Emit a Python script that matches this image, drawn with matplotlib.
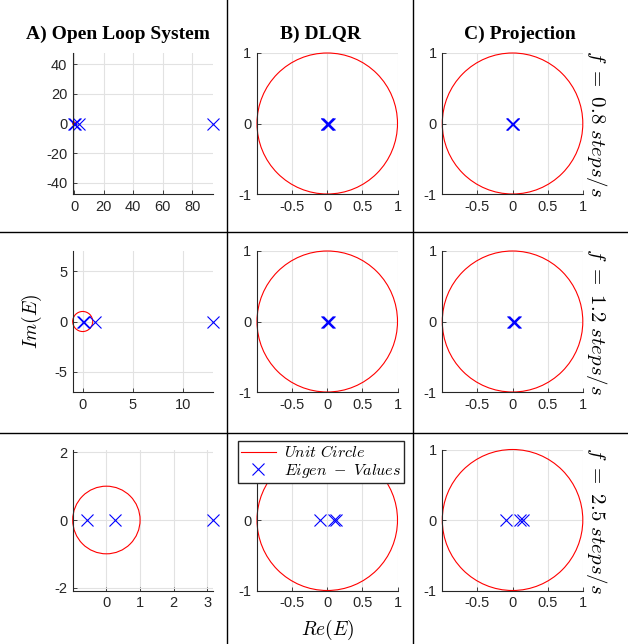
import matplotlib.pyplot as plt
from matplotlib.lines import Line2D
from matplotlib.patches import Circle
from matplotlib.ticker import FormatStrFormatter

plt.rcParams['font.family'] = ['Liberation Sans', 'DejaVu Sans']
plt.rcParams['mathtext.fontset'] = 'cm'
plt.rcParams['axes.unicode_minus'] = False

# eigenvalues (real part, imag part ~ 0) read off the figure
# rows: f = 0.8, 1.2, 2.5 steps/s
open_loop_re = [[0.1, 0.8, 3.2, 94.2], [0.0, 0.1, 1.2, 13.05], [-0.58, 0.25, 3.17]]
dlqr_re = [[-0.01, 0.0, 0.01, 0.02], [0.0, 0.01, 0.03], [-0.1, 0.1, 0.13]]
proj_re = [[-0.01, 0.0, 0.01], [0.0, 0.02, 0.03], [-0.09, 0.1, 0.15]]

col_titles = ['A) Open Loop System', 'B) DLQR', 'C) Projection']
freqs = ['0.8', '1.2', '2.5']

ol_xticks = [[0, 20, 40, 60, 80], [0, 5, 10], [0, 1, 2, 3]]
ol_yticks = [[-40, -20, 0, 20, 40], [-5, 0, 5], [-2, 0, 2]]

W, H = 628, 644
fig = plt.figure(figsize=(W / 100, H / 100), dpi=100)

col_left = [72.7, 257, 442.3]
row_top = [53, 251, 449.5]
aw, ah = 140.5, 141

dark = '#262626'


def style(ax):
    for s in ['top', 'right']:
        ax.spines[s].set_visible(False)
    for s in ['left', 'bottom']:
        ax.spines[s].set_color(dark)
        ax.spines[s].set_linewidth(0.8)
    ax.tick_params(direction='in', length=3, width=0.6, colors=dark,
                   labelsize=10.5, pad=4)
    ax.grid(True, color='#e2e2e2', linewidth=0.8)
    ax.set_axisbelow(True)
    ax.xaxis.set_major_formatter(FormatStrFormatter('%g'))
    ax.yaxis.set_major_formatter(FormatStrFormatter('%g'))


for r in range(3):
    for c in range(3):
        ax = fig.add_axes([col_left[c] / W, 1 - (row_top[r] + ah) / H, aw / W, ah / H])
        style(ax)
        circ = Circle((0, 0), 1, fill=False, edgecolor='red', linewidth=0.8, clip_on=False)
        ax.add_patch(circ)
        if c == 0:
            re = open_loop_re[r]
            xmax = max(re)
            half = (xmax + 1) / 2
            ax.set_xlim(-1, xmax)
            ax.set_ylim(-half, half)
            ax.set_xticks(ol_xticks[r])
            ax.set_yticks(ol_yticks[r])
        else:
            re = dlqr_re[r] if c == 1 else proj_re[r]
            ax.set_xlim(-1, 1)
            ax.set_ylim(-1, 1)
            ax.set_xticks([-0.5, 0, 0.5, 1])
            ax.set_yticks([-1, 0, 1])
        ax.plot(re, [0] * len(re), 'x', color='blue', markersize=9,
                markeredgewidth=0.8, clip_on=False)

# column titles
col_center = [117.5, 320, 520]
for c in range(3):
    fig.text(col_center[c] / W, 1 - 39.3 / H, col_titles[c], ha='center', va='baseline',
             fontsize=14, fontweight='bold', family='Liberation Serif')

# row labels on the right
for r in range(3):
    fig.text(597 / W, 1 - (row_top[r] + ah / 2) / H, r'$f\ =\ %s\ steps/s$' % freqs[r],
             rotation=270, ha='center', va='center', fontsize=15)

fig.text(31.7 / W, 1 - 321.5 / H, r'$Im(E)$', rotation=90, ha='center', va='center', fontsize=14)
fig.text(328 / W, 1 - 630 / H, r'$Re(E)$', ha='center', va='center', fontsize=14)

# legend
handles = [Line2D([], [], color='red', linewidth=0.8),
           Line2D([], [], color='blue', marker='x', linestyle='none', markersize=9, markeredgewidth=0.8)]
fig.legend(handles, [r'$Unit\ Circle$', r'$Eigen\ -\ Values$'], loc='upper center',
           bbox_to_anchor=(321 / W, 1 - 441 / H), bbox_transform=fig.transFigure,
           borderaxespad=0, fancybox=False, framealpha=1, edgecolor=dark,
           fontsize=11.5, handlelength=2.2, handletextpad=0.5, borderpad=0.2,
           labelspacing=0.1)

# separator lines
for x in [227.3, 413]:
    fig.add_artist(Line2D([x / W, x / W], [0, 1], color='black', linewidth=1,
                          transform=fig.transFigure))
for y in [232, 433]:
    fig.add_artist(Line2D([0, 1], [1 - y / H, 1 - y / H], color='black', linewidth=1,
                          transform=fig.transFigure))

fig.savefig('out.png', dpi=100)
